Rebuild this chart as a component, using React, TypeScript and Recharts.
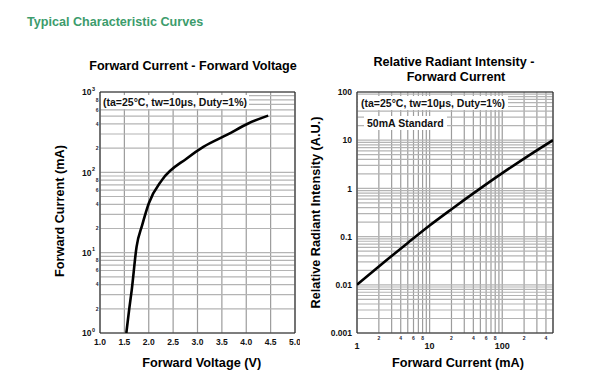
import React from "react";
import { CartesianGrid, Line, LineChart, ReferenceArea, XAxis, YAxis } from "recharts";

const FONT = '"Liberation Sans", Arial, sans-serif';
const GREEN = "#3c9c6c";
const GRID_V = "#9c9c9c";
const GRID_H = "#b4b4b4";

// Forward current (mA) vs forward voltage (V)
const FV_VOLT = [1.54, 1.6, 1.65, 1.75, 1.865, 2.0, 2.27, 2.78, 3.12, 3.6, 4.04, 4.45];
const FV_CURR = [1, 2, 3.4, 11.8, 22, 41, 80, 149, 207, 292, 406, 508];
const FV_X_TICKS = [1.0, 1.5, 2.0, 2.5, 3.0, 3.5, 4.0, 4.5, 5.0];
const FV_Y_TICKS = [
  1, 2, 3, 4, 5, 6, 7, 8, 9, 10, 20, 30, 40, 50, 60, 70, 80, 90, 100, 200, 300, 400, 500, 600,
  700, 800, 900, 1000,
];

// Relative radiant intensity vs forward current (mA)
const RI_CURR = [1, 2, 5, 10, 20, 50, 100, 200, 500];
const RI_INT = [0.01, 0.024, 0.074, 0.17, 0.37, 1.0, 2.07, 4.15, 10];
const RI_X_TICKS = [
  1, 2, 3, 4, 5, 6, 7, 8, 9, 10, 20, 30, 40, 50, 60, 70, 80, 90, 100, 200, 300, 400, 500,
];
const RI_Y_TICKS = [
  0.001, 0.002, 0.003, 0.004, 0.005, 0.006, 0.007, 0.008, 0.009, 0.01, 0.02, 0.03, 0.04, 0.05,
  0.06, 0.07, 0.08, 0.09, 0.1, 0.2, 0.3, 0.4, 0.5, 0.6, 0.7, 0.8, 0.9, 1, 2, 3, 4, 5, 6, 7, 8,
  9, 10, 20, 30, 40, 50, 60, 70, 80, 90, 100,
];
const RI_Y_LABELS: Record<string, string> = {
  "0.001": "0.001",
  "0.01": "0.01",
  "0.1": "0.1",
  "1": "1",
  "10": "10",
  "100": "100",
};

const fvData = FV_VOLT.map((v, i) => ({ v, i: FV_CURR[i] }));
const riData = RI_CURR.map((c, i) => ({ c, r: RI_INT[i] }));

function split(v: number) {
  const e = Math.floor(Math.log10(v) + 1e-9);
  const m = Math.round(v / Math.pow(10, e));
  return { e, m };
}

type TickP = { x?: number; y?: number; payload?: { value: number } };

function FvYTick({ x = 0, y = 0, payload }: TickP) {
  const v = payload?.value ?? 1;
  const { e, m } = split(v);
  if (m === 1) {
    return (
      <g fontFamily={FONT} fontWeight="bold" fill="#111">
        <text x={x - 8.5} y={y + 3.2} textAnchor="end" fontSize={8.5}>
          10
        </text>
        <text x={x - 8} y={y - 1.5} textAnchor="start" fontSize={5.5}>
          {e}
        </text>
      </g>
    );
  }
  if (m % 2 === 0) {
    return (
      <text x={x - 2.8} y={y + 1.8} textAnchor="middle" fontSize={5} fontFamily={FONT} fontWeight="bold" fill="#223">
        {m}
      </text>
    );
  }
  return <g />;
}

function FvXTick({ x = 0, y = 0, payload }: TickP) {
  return (
    <text x={x} y={y + 11.8} textAnchor="middle" fontSize={8.5} fontFamily={FONT} fontWeight="bold" fill="#111">
      {(payload?.value ?? 0).toFixed(1)}
    </text>
  );
}

function RiXTick({ x = 0, y = 0, payload }: TickP) {
  const v = payload?.value ?? 1;
  const { m } = split(v);
  if (m === 1) {
    return (
      <text x={x} y={y + 15.5} textAnchor="middle" fontSize={9} fontFamily={FONT} fontWeight="bold" fill="#111">
        {v}
      </text>
    );
  }
  if (m % 2 === 0) {
    return (
      <text x={x} y={y + 7.3} textAnchor="middle" fontSize={5} fontFamily={FONT} fontWeight="bold" fill="#223">
        {m}
      </text>
    );
  }
  return <g />;
}

function RiYTick({ x = 0, y = 0, payload }: TickP) {
  const v = payload?.value ?? 1;
  const label = RI_Y_LABELS[String(v)];
  if (!label) return <g />;
  return (
    <text x={x - 5} y={y + 3.2} textAnchor="end" fontSize={8.5} fontFamily={FONT} fontWeight="bold" fill="#111">
      {label}
    </text>
  );
}

const noteStyle: React.CSSProperties = {
  position: "absolute",
  background: "#fff",
  fontFamily: FONT,
  fontWeight: "bold",
  fontSize: 10.5,
  lineHeight: "14px",
  color: "#111",
  whiteSpace: "nowrap",
};

export default function App() {
  return (
    <div style={{ position: "absolute", left: 0, top: 0, width: 595, height: 386, background: "#fff" }}>
      <div style={{ position: "absolute", left: 0, top: 0 }}>
        <LineChart width={300} height={386} data={fvData} margin={{ top: 92, right: 5, bottom: 23, left: 60 }}>
          <CartesianGrid horizontal={false} stroke={GRID_V} strokeWidth={1.2} />
          <CartesianGrid vertical={false} stroke={GRID_H} strokeWidth={1.2} />
          <XAxis
            dataKey="v"
            type="number"
            domain={[1, 5]}
            ticks={FV_X_TICKS}
            allowDataOverflow
            height={30}
            tickLine={false}
            tickSize={0}
            tickMargin={0}
            axisLine={false}
            tick={<FvXTick />}
            interval={0}
          />
          <YAxis
            type="number"
            scale="log"
            domain={[1, 1000]}
            ticks={FV_Y_TICKS}
            allowDataOverflow
            width={40}
            tickLine={false}
            tickSize={0}
            tickMargin={0}
            axisLine={false}
            tick={<FvYTick />}
            interval={0}
          />
          <ReferenceArea x1={1} x2={5} y1={1} y2={1000} fill="none" stroke="#222" strokeWidth={1} ifOverflow="visible" />
          <Line dataKey="i" type="monotone" stroke="#000" strokeWidth={2.6} dot={false} isAnimationActive={false} />
        </LineChart>
      </div>

      <div style={{ position: "absolute", left: 300, top: 0 }}>
        <LineChart width={260} height={386} data={riData} margin={{ top: 92, right: 7, bottom: 23, left: 17 }}>
          <CartesianGrid horizontal={false} stroke={GRID_V} strokeWidth={1.2} />
          <CartesianGrid vertical={false} stroke={GRID_H} strokeWidth={1.2} />
          <XAxis
            dataKey="c"
            type="number"
            scale="log"
            domain={[1, 500]}
            ticks={RI_X_TICKS}
            allowDataOverflow
            height={30}
            tickLine={false}
            tickSize={0}
            tickMargin={0}
            axisLine={false}
            tick={<RiXTick />}
            interval={0}
          />
          <YAxis
            type="number"
            scale="log"
            domain={[0.001, 100]}
            ticks={RI_Y_TICKS}
            allowDataOverflow
            width={40}
            tickLine={false}
            tickSize={0}
            tickMargin={0}
            axisLine={false}
            tick={<RiYTick />}
            interval={0}
          />
          <ReferenceArea x1={1} x2={500} y1={0.001} y2={100} fill="none" stroke="#222" strokeWidth={1} ifOverflow="visible" />
          <Line dataKey="r" type="monotone" stroke="#000" strokeWidth={2.6} dot={false} isAnimationActive={false} />
        </LineChart>
      </div>

      <div style={{ ...noteStyle, left: 101, top: 95, padding: "0 2px" }}>(ta=25°C, tw=10μs, Duty=1%)</div>
      <div style={{ ...noteStyle, left: 358, top: 96, padding: "0 3px" }}>(ta=25°C, tw=10μs, Duty=1%)</div>
      <div style={{ ...noteStyle, left: 364, top: 116, padding: "0 3px" }}>50mA Standard</div>

      <svg width={595} height={386} style={{ position: "absolute", left: 0, top: 0, pointerEvents: "none" }}>
        <g fontFamily={FONT} fontWeight="bold" textAnchor="middle" dominantBaseline="central">
          <text x={27} y={21.5} textAnchor="start" fontSize={12.6} fill={GREEN}>
            Typical Characteristic Curves
          </text>
          <text x={193} y={65.7} fontSize={12.6} fill="#000">
            Forward Current - Forward Voltage
          </text>
          <text x={454} y={62.3} fontSize={12.6} fill="#000">
            Relative Radiant Intensity -
          </text>
          <text x={456} y={76.7} fontSize={12.6} fill="#000">
            Forward Current
          </text>
          <text x={201.7} y={362.7} fontSize={12.7} fill="#000">
            Forward Voltage (V)
          </text>
          <text x={458} y={362.7} fontSize={12.7} fill="#000">
            Forward Current (mA)
          </text>
          <text x={60} y={211} fontSize={12.7} fill="#000" transform="rotate(-90 60 211)">
            Forward Current (mA)
          </text>
          <text x={316} y={212.5} fontSize={12.7} fill="#000" transform="rotate(-90 316 212.5)">
            Relative Radiant Intensity (A.U.)
          </text>
        </g>
      </svg>
    </div>
  );
}
